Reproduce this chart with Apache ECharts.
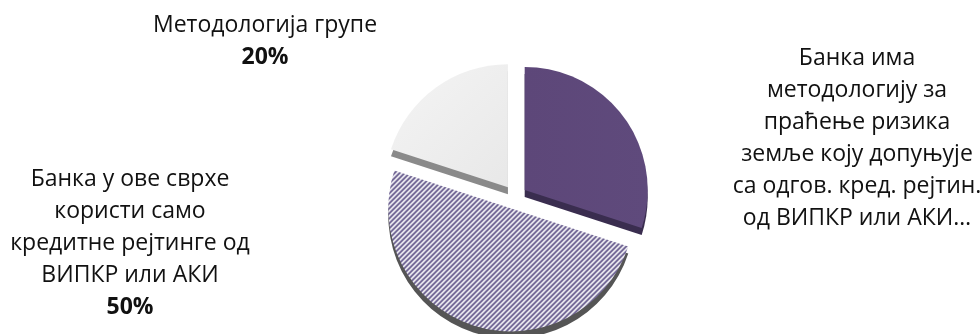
<!DOCTYPE html>
<html><head><meta charset="utf-8">
<script src="https://cdn.jsdelivr.net/npm/echarts@6/dist/echarts.min.js"></script>
<style>html,body{margin:0;padding:0;background:#fff}#c{width:980px;height:334px}</style>
</head><body><div id="c"></div>
<script>
// ---- data ----
const categories = [
  'Банка има методологију за праћење ризика земље коју допуњује са одгов. кред. рејтин. од ВИПКР или АКИ',
  'Банка у ове сврхе користи само кредитне рејтинге од ВИПКР или АКИ',
  'Методологија групе'
];
const values = [30, 50, 20];
const labelLines = [
  ['Банка има', 'методологију за', 'праћење ризика', 'земље коју допуњује', 'са одгов. кред. рејтин.', 'од ВИПКР или АКИ…'],
  ['Банка у ове сврхе', 'користи само', 'кредитне рејтинге од', 'ВИПКР или АКИ'],
  ['Методологија групе']
];
const showPercent = [false, true, true];

// ---- styles ----
function hatch() {
  const s = 5, c = document.createElement('canvas');
  c.width = s; c.height = s;
  const g = c.getContext('2d');
  g.fillStyle = '#ffffff'; g.fillRect(0, 0, s, s);
  g.strokeStyle = '#564980'; g.lineWidth = 1.7;
  g.beginPath();
  g.moveTo(-1, s + 1); g.lineTo(s + 1, -1);
  g.moveTo(-1, 1); g.lineTo(1, -1);
  g.moveTo(s - 1, s + 1); g.lineTo(s + 1, s - 1);
  g.stroke();
  return c;
}
const topColors = [
  {type: 'linear', x: 0, y: 0, x2: 1, y2: 0, colorStops: [{offset: 0, color: '#5d4779'}, {offset: 1, color: '#5f4a7c'}]},
  {image: hatch(), repeat: 'repeat'},
  {type: 'linear', x: 0, y: 0, x2: 1, y2: 1, colorStops: [{offset: 0, color: '#f4f4f4'}, {offset: 1, color: '#e8e8e8'}]}
];
const sideColors = ['#3a2d4f', '#555555', '#8a8a8a'];
const labelPos = [[857, 138], [130, 243], [265, 41]];
const fontFamily = 'Open Sans', fontSize = 23, lineH = 32;

const center = [515, 197], radius = 123, depth = 7, offset = 12;

const total = values.reduce((a, b) => a + b, 0);
const topData = values.map((v, i) => ({
  name: categories[i], value: v, selected: true,
  itemStyle: {color: topColors[i]}
}));
const sideData = values.map((v, i) => ({
  name: categories[i], value: v, selected: true,
  itemStyle: {color: sideColors[i]}
}));
const labels = labelLines.map((lines, i) => {
  let t = lines.join('\n');
  if (showPercent[i]) t += '\n{b|' + Math.round(values[i] / total * 100) + '%}';
  return {
    type: 'text', x: labelPos[i][0], y: labelPos[i][1], silent: true,
    style: {
      text: t, fill: '#111', align: 'center', verticalAlign: 'middle',
      fontFamily: fontFamily, fontSize: fontSize, lineHeight: lineH,
      rich: {b: {fontFamily: fontFamily, fontSize: fontSize, lineHeight: lineH, fontWeight: 'bold', fill: '#111'}}
    }
  };
});

const chart = echarts.init(document.getElementById('c'), null, {renderer: 'canvas'});
const common = {
  type: 'pie', silent: true, radius: radius,
  startAngle: 90, clockwise: true,
  selectedMode: 'multiple', selectedOffset: offset,
  label: {show: false}, labelLine: {show: false},
  emphasis: {disabled: true}
};
chart.setOption({
  animation: false,
  graphic: labels,
  series: [
    Object.assign({}, common, {z: 1, center: [center[0], center[1] + depth], data: sideData}),
    Object.assign({}, common, {z: 2, center: center, data: topData})
  ]
});
</script></body></html>
